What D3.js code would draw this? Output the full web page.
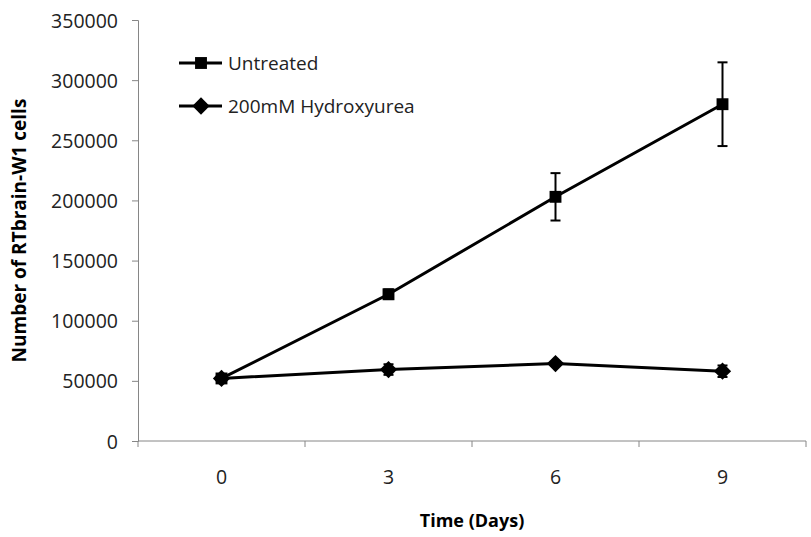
<!DOCTYPE html>
<html>
<head>
<meta charset="utf-8">
<script src="https://cdn.jsdelivr.net/npm/d3@7"></script>
<style>
  body { margin: 0; background: #fff; }
  text { font-family: "Open Sans", sans-serif; fill: #000; }
</style>
</head>
<body>
<div id="chart"></div>
<script>
// values
const days = ["0", "3", "6", "9"];
const untreated = [52000, 122000, 203000, 280000];
const untreatedErr = [1500, 4000, 19700, 34800];
const hydroxyurea = [52000, 59400, 64400, 58000];
const hydroxyureaErr = [1500, 4400, 1500, 4800];
const yTicks = [0, 50000, 100000, 150000, 200000, 250000, 300000, 350000];
const seriesNames = ["Untreated", "200mM Hydroxyurea"];

const W = 811, H = 537;
const margin = {top: 20, right: 5, bottom: 96, left: 138};

const svg = d3.select("#chart").append("svg")
    .attr("width", W)
    .attr("height", H);

const x = d3.scaleBand()
    .domain(days)
    .range([margin.left, W - margin.right]);

const y = d3.scaleLinear()
    .domain([0, 350000])
    .range([H - margin.bottom, margin.top]);

const axisColor = "#868686";

// y axis
const yAxis = svg.append("g")
    .attr("transform", "translate(" + margin.left + ",0)")
    .call(d3.axisLeft(y).tickValues(yTicks).tickSize(6).tickPadding(14).tickFormat(d3.format("d")));
yAxis.select(".domain").attr("stroke", axisColor);
yAxis.selectAll(".tick line").attr("stroke", axisColor);
yAxis.selectAll(".tick text")
    .style("font-size", "19.5px")
    .style("fill", "#222")
    .attr("dy", "0.36em");

// x axis: ticks sit between categories, like the original
const xAxis = svg.append("g")
    .attr("transform", "translate(0," + y(0) + ")");
xAxis.append("line")
    .attr("x1", x.range()[0]).attr("x2", x.range()[1])
    .attr("stroke", axisColor);
const edges = days.map(d => x(d)).concat([x.range()[1]]);
xAxis.selectAll(".edge")
    .data(edges)
  .enter().append("line")
    .attr("class", "edge")
    .attr("x1", d => d).attr("x2", d => d)
    .attr("y1", 0).attr("y2", 6)
    .attr("stroke", axisColor);
xAxis.selectAll(".lab")
    .data(days)
  .enter().append("text")
    .attr("class", "lab")
    .attr("x", d => x(d) + x.bandwidth() / 2)
    .attr("y", 43)
    .attr("text-anchor", "middle")
    .style("font-size", "19.5px")
    .style("fill", "#222")
    .text(d => d);

// axis titles
svg.append("text")
    .attr("x", 472)
    .attr("y", 527)
    .attr("text-anchor", "middle")
    .style("font-size", "18px")
    .style("font-weight", "bold")
    .text("Time (Days)");

svg.append("text")
    .attr("transform", "translate(26," + ((y(0) + y(350000)) / 2) + ") rotate(-90)")
    .attr("text-anchor", "middle")
    .style("font-size", "19px")
    .style("font-weight", "bold")
    .text("Number of RTbrain-W1 cells");

const cx = d => x(d) + x.bandwidth() / 2;

const line = d3.line()
    .x((d, i) => cx(days[i]))
    .y(d => y(d));

function drawSeries(vals, errs, symbol, size) {
  const g = svg.append("g");
  g.append("path")
      .datum(vals)
      .attr("fill", "none")
      .attr("stroke", "#000")
      .attr("stroke-width", 3)
      .attr("d", line);

  const bars = g.selectAll(".err")
      .data(vals)
    .enter().append("g");
  bars.append("line")
      .attr("x1", (d, i) => cx(days[i])).attr("x2", (d, i) => cx(days[i]))
      .attr("y1", (d, i) => y(d + errs[i])).attr("y2", (d, i) => y(d - errs[i]))
      .attr("stroke", "#000").attr("stroke-width", 2);
  [1, -1].forEach(s => {
    bars.append("line")
        .attr("x1", (d, i) => cx(days[i]) - 5).attr("x2", (d, i) => cx(days[i]) + 5)
        .attr("y1", (d, i) => y(d + s * errs[i])).attr("y2", (d, i) => y(d + s * errs[i]))
        .attr("stroke", "#000").attr("stroke-width", 2);
  });

  g.selectAll(".pt")
      .data(vals)
    .enter().append("path")
      .attr("transform", (d, i) => "translate(" + cx(days[i]) + "," + y(d) + ")")
      .attr("d", d3.symbol().type(symbol).size(size))
      .attr("fill", "#000");
}

// hydroxyurea first so the untreated square sits on top at day 0
drawSeries(hydroxyurea, hydroxyureaErr, d3.symbolDiamond2, 190);
drawSeries(untreated, untreatedErr, d3.symbolSquare2, 180);

// legend
const legend = svg.append("g");
const legendRows = [
  {name: seriesNames[0], sym: d3.symbolSquare2, size: 180, y: 63},
  {name: seriesNames[1], sym: d3.symbolDiamond2, size: 190, y: 106}
];
legendRows.forEach(r => {
  legend.append("line")
      .attr("x1", 179).attr("x2", 222)
      .attr("y1", r.y).attr("y2", r.y)
      .attr("stroke", "#000").attr("stroke-width", 3);
  legend.append("path")
      .attr("transform", "translate(201," + r.y + ")")
      .attr("d", d3.symbol().type(r.sym).size(r.size))
      .attr("fill", "#000");
  legend.append("text")
      .attr("x", 228)
      .attr("y", r.y)
      .attr("dy", "0.35em")
      .style("font-size", "19px")
      .style("fill", "#222")
      .text(r.name);
});
</script>
</body>
</html>
